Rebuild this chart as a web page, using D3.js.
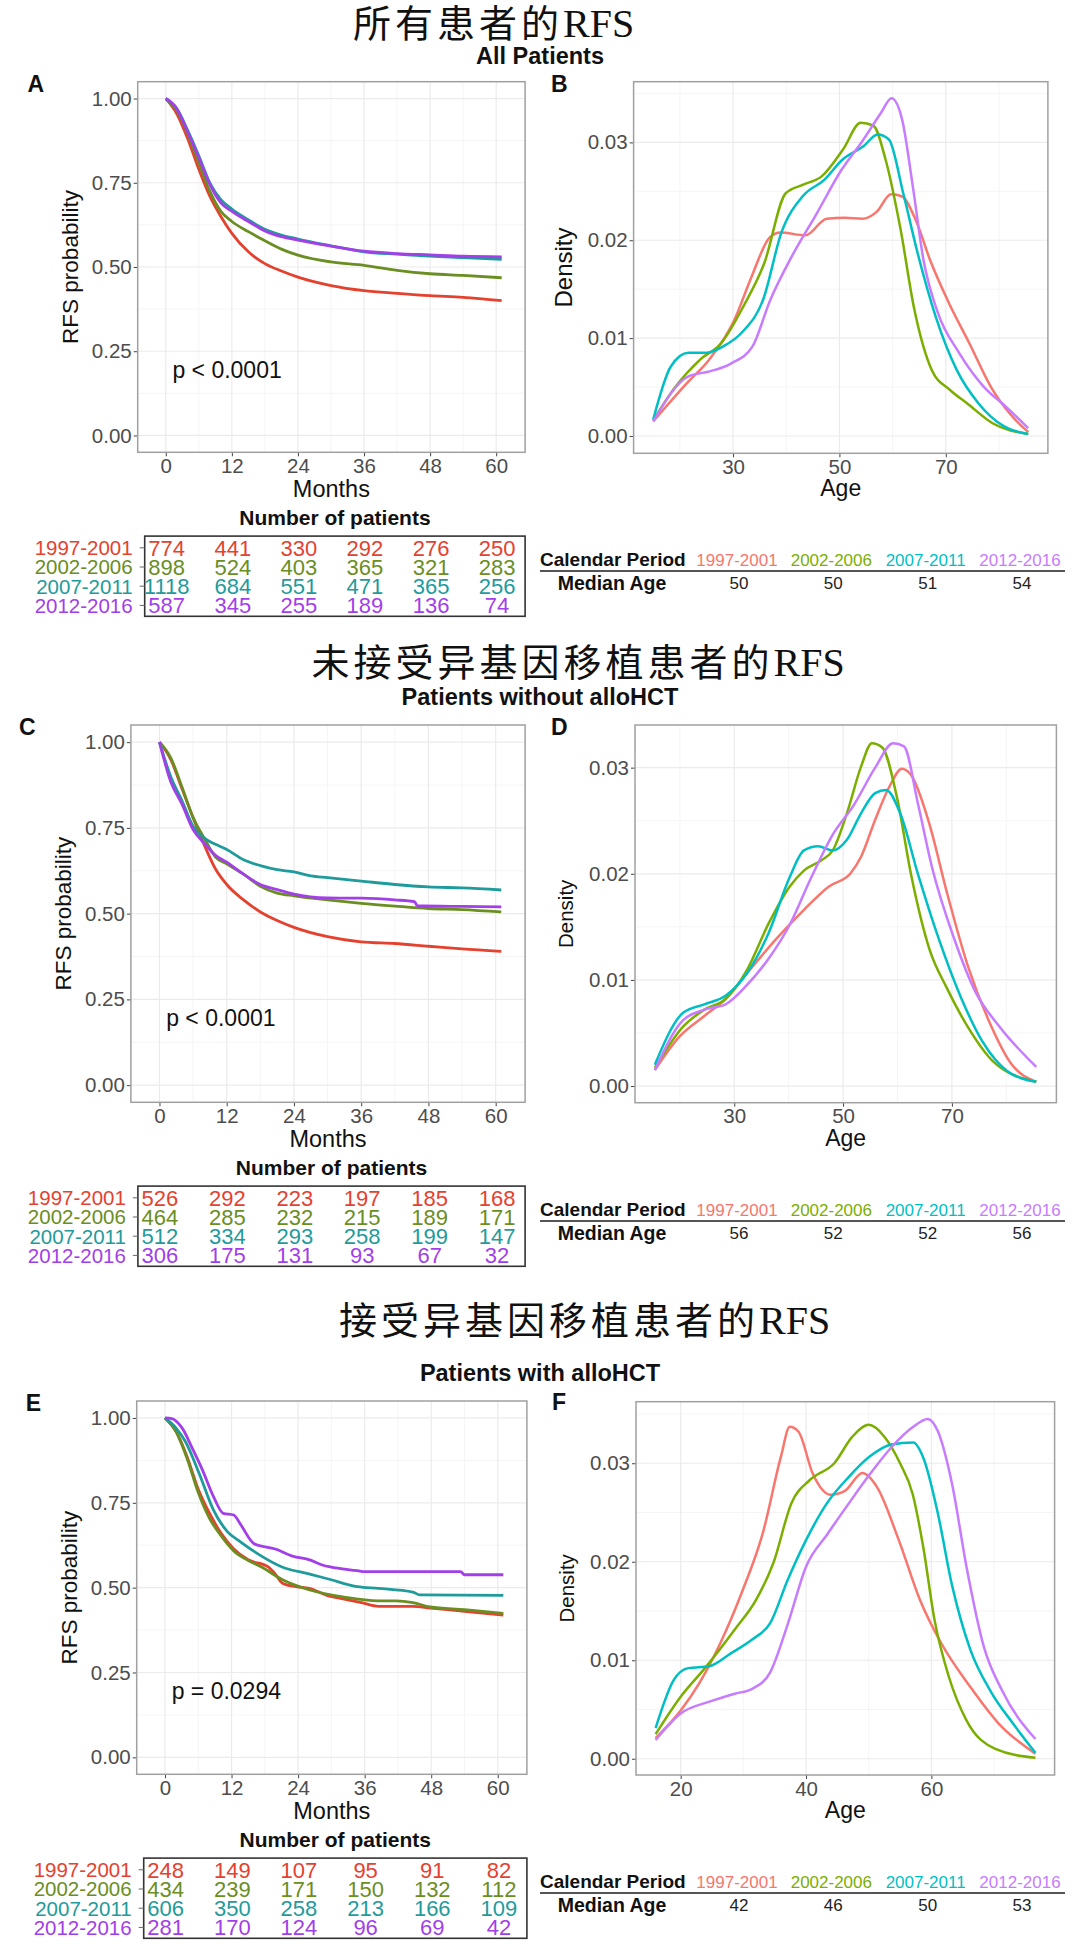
<!DOCTYPE html>
<html><head><meta charset="utf-8">
<script src="https://cdn.jsdelivr.net/npm/d3@7/dist/d3.min.js"></script>
<style>body{margin:0;background:#fff}svg{display:block}</style>
</head><body>
<svg id="chart" width="1080" height="1954"></svg>
<script>
// ---------------- DATA ----------------
const periods = ["1997-2001", "2002-2006", "2007-2011", "2012-2016"];
const monthTicks = [0, 12, 24, 36, 48, 60];
const monthMinor = [6, 18, 30, 42, 54];
const probTicks = [0, 0.25, 0.5, 0.75, 1];
const probMinor = [0.125, 0.375, 0.625, 0.875];
const densTicks = [0, 0.01, 0.02, 0.03];
const densMinor = [0.005, 0.015, 0.025, 0.035];

const sectionTitles = ["所有患者的", "未接受异基因移植患者的", "接受异基因移植患者的"];
const sectionSubtitles = ["All Patients", "Patients without alloHCT", "Patients with alloHCT"];
const pValues = ["p < 0.0001", "p < 0.0001", "p = 0.0294"];

// KM RFS curves [month, probability]
const rfsA_1997 = [[0,1],[2,0.955],[4,0.88],[6,0.79],[8,0.71],[10,0.65],[12,0.6],[15,0.545],[18,0.51],[21,0.488],[24,0.47],[30,0.445],[36,0.43],[42,0.422],[48,0.415],[54,0.41],[61,0.4]];
const rfsA_2002 = [[0,1],[2,0.965],[4,0.895],[6,0.81],[8,0.725],[10,0.665],[12,0.635],[15,0.605],[18,0.578],[21,0.553],[24,0.535],[30,0.515],[36,0.505],[42,0.49],[48,0.48],[54,0.475],[61,0.468]];
const rfsA_2007 = [[0,1],[2,0.97],[4,0.905],[6,0.83],[8,0.75],[10,0.7],[12,0.672],[15,0.64],[18,0.612],[21,0.595],[24,0.583],[30,0.563],[36,0.545],[42,0.538],[48,0.532],[54,0.528],[61,0.523]];
const rfsA_2012 = [[0,1],[2,0.97],[4,0.9],[6,0.825],[8,0.745],[10,0.69],[12,0.665],[15,0.635],[18,0.607],[21,0.59],[24,0.58],[30,0.562],[36,0.547],[42,0.54],[48,0.536],[54,0.532],[61,0.53]];

const rfsC_1997 = [[0,1],[2,0.95],[4,0.865],[6,0.78],[8,0.7],[10,0.63],[12,0.585],[15,0.54],[18,0.505],[21,0.48],[24,0.46],[30,0.433],[36,0.418],[42,0.413],[48,0.405],[54,0.397],[61,0.39]];
const rfsC_2002 = [[0,1],[2,0.955],[4,0.87],[6,0.78],[8,0.72],[10,0.665],[12,0.645],[15,0.615],[18,0.58],[21,0.56],[24,0.552],[30,0.54],[36,0.53],[42,0.522],[48,0.515],[54,0.512],[61,0.505]];
const rfsC_2007 = [[0,1],[2,0.9],[4,0.83],[6,0.755],[8,0.72],[10,0.702],[12,0.687],[15,0.657],[18,0.64],[21,0.628],[24,0.622],[27,0.61],[30,0.605],[36,0.595],[42,0.585],[48,0.578],[54,0.575],[61,0.569]];
const rfsC_2012 = [[0,1],[2,0.885],[4,0.82],[6,0.745],[8,0.705],[10,0.67],[12,0.65],[15,0.615],[18,0.585],[21,0.57],[24,0.557],[30,0.546],[36,0.545],[42,0.54],[45.5,0.535],[46,0.523],[54,0.521],[61,0.52]];

const rfsE_1997 = [[0,1],[2,0.96],[4,0.885],[6,0.79],[8,0.72],[10,0.663],[12.4,0.614],[15,0.582],[18.6,0.561],[19.9,0.54],[21.1,0.514],[23.6,0.503],[26,0.498],[29.2,0.477],[32.3,0.466],[35.4,0.456],[38.5,0.445],[44.7,0.445],[47.8,0.44],[50.9,0.435],[54,0.43],[61,0.419]];
const rfsE_2002 = [[0,1],[2,0.96],[4,0.88],[6,0.78],[8,0.705],[10,0.655],[12.4,0.608],[15,0.58],[17.4,0.561],[21.1,0.524],[26.1,0.493],[32.3,0.472],[38.5,0.461],[41.6,0.461],[44.7,0.456],[47.8,0.443],[54,0.435],[61,0.424]];
const rfsE_2007 = [[0,1],[2,0.97],[3.7,0.93],[6.2,0.835],[8.7,0.73],[11.2,0.666],[13.6,0.635],[17.4,0.593],[21.1,0.561],[26.1,0.54],[29.8,0.524],[34.7,0.503],[38.5,0.498],[44.7,0.487],[45.9,0.479],[61,0.477]];
const rfsE_2012 = [[0,1],[1.2,0.998],[3.1,0.97],[5,0.908],[6.8,0.845],[8.7,0.77],[10.5,0.719],[12.4,0.714],[13.6,0.687],[16.1,0.629],[19.9,0.614],[23,0.593],[26.1,0.582],[28.5,0.566],[29.8,0.561],[34.7,0.55],[36,0.547],[53.3,0.547],[54,0.538],[61,0.538]];

// Age density curves [age, density]
const densB_1997 = [[15,0.0015],[21.5,0.0055],[25.5,0.0078],[30.2,0.0118],[33.5,0.0163],[36.9,0.0203],[38.9,0.0208],[43.6,0.0205],[47.6,0.0222],[51,0.0223],[54.3,0.0222],[57,0.0229],[59.7,0.0247],[61.7,0.0245],[64.4,0.022],[67.1,0.0179],[70.4,0.0138],[74.5,0.0094],[78.5,0.005],[82.5,0.002],[85.5,0.0004]];
const densB_2002 = [[15,0.0016],[19,0.0049],[23.8,0.0078],[27.8,0.0095],[31.9,0.0132],[35.9,0.0177],[39.9,0.0248],[43.3,0.0257],[46.6,0.0265],[50.7,0.0293],[54,0.032],[56.4,0.0317],[58.7,0.0282],[61.4,0.0214],[64.1,0.0129],[67.4,0.0067],[70.8,0.0047],[74.1,0.0033],[78.8,0.0013],[85.5,0.0002]];
const densB_2007 = [[15,0.0017],[18.3,0.0071],[21.6,0.0085],[25,0.0085],[28.3,0.0092],[31.7,0.0106],[35.7,0.014],[39.1,0.0208],[43.1,0.0245],[47.2,0.0262],[50.5,0.0282],[54.5,0.0296],[57.2,0.0308],[59.3,0.0303],[62,0.0248],[64.7,0.0187],[68.1,0.0122],[72.1,0.0067],[76.2,0.0033],[80.9,0.001],[85.5,0.0002]];
const densB_2012 = [[15,0.0015],[21.6,0.0061],[25.6,0.0066],[29.6,0.0074],[33.6,0.0091],[37,0.0139],[41,0.0183],[45.7,0.0227],[50.4,0.0272],[54.4,0.0302],[57.8,0.033],[59.8,0.0345],[61.8,0.0323],[63.8,0.0255],[65.8,0.018],[68.5,0.0126],[72.5,0.0085],[77.2,0.005],[81.3,0.003],[85.5,0.0008]];

const densD_1997 = [[15.4,0.0015],[20,0.0047],[24.5,0.0066],[28.4,0.0082],[32.3,0.0106],[37.6,0.0138],[42.8,0.0166],[47.4,0.0188],[51.3,0.02],[53.3,0.0216],[55.9,0.0251],[58.5,0.0282],[60.8,0.0299],[62.5,0.0293],[65.8,0.0248],[69.1,0.0182],[73,0.0112],[77,0.0059],[80.9,0.0021],[85.5,0.0004]];
const densD_2002 = [[15.4,0.0017],[20.6,0.0056],[24.5,0.0072],[28.4,0.0082],[32.3,0.0109],[36.3,0.0153],[40.2,0.0188],[42.8,0.0203],[46.1,0.0213],[48.1,0.0222],[50.7,0.0257],[53.3,0.0301],[55.3,0.0323],[57.2,0.0319],[59.9,0.0272],[62.5,0.0199],[65.8,0.013],[69.1,0.0092],[73,0.0055],[77.6,0.0023],[85.5,0.0004]];
const densD_2007 = [[15.4,0.002],[20.6,0.0069],[24.5,0.0077],[28.4,0.0085],[32.3,0.0106],[36.3,0.0144],[40.2,0.0197],[42.8,0.0222],[45.4,0.0226],[48.1,0.0222],[50.7,0.0232],[53.3,0.0257],[55.9,0.0276],[57.9,0.0279],[60.5,0.0257],[63.8,0.0199],[67.7,0.0137],[71.7,0.0083],[75.6,0.0042],[80.2,0.0014],[85.5,0.0004]];
const densD_2012 = [[15.4,0.0015],[20.6,0.0062],[24.5,0.0072],[28.4,0.0077],[32.3,0.0095],[36.3,0.012],[40.2,0.0152],[44.1,0.0196],[48.1,0.0237],[52,0.0265],[55.9,0.03],[59.2,0.0323],[61.2,0.032],[63.8,0.0265],[66.4,0.0205],[70.4,0.0139],[74.3,0.0089],[78.9,0.0055],[85.5,0.0018]];

const densF_1997 = [[16,0.0021],[20,0.0049],[22.9,0.0076],[26.3,0.0117],[29.7,0.0168],[33.1,0.0229],[36,0.0307],[37.4,0.0337],[38.8,0.0332],[41.1,0.0289],[43.9,0.0268],[46.2,0.0272],[49,0.029],[51.3,0.0276],[54.8,0.0222],[58.2,0.0161],[61.6,0.0117],[66.2,0.0073],[70.7,0.0036],[76.6,0.0005]];
const densF_2002 = [[16,0.0025],[20,0.0063],[24,0.0093],[28.6,0.0131],[32,0.0161],[34.8,0.0199],[37.7,0.026],[40.6,0.0283],[44.5,0.03],[47.4,0.0327],[50,0.0339],[52.5,0.0327],[55,0.03],[57,0.0269],[58.7,0.0215],[60.5,0.0141],[62.8,0.0083],[65.6,0.0039],[70.2,0.001],[76.6,0.0001]];
const densF_2007 = [[16,0.0031],[18.9,0.008],[21.2,0.0092],[24.6,0.0094],[28,0.0107],[31.4,0.0121],[34.3,0.0138],[37.1,0.0182],[40,0.0222],[43.4,0.026],[46.8,0.0286],[50.2,0.0307],[53.6,0.0319],[57.1,0.0321],[58.8,0.0304],[61,0.025],[63.3,0.0176],[66.2,0.0111],[69.6,0.0067],[73,0.0036],[76.6,0.0006]];
const densF_2012 = [[16,0.0019],[20,0.0046],[24.6,0.0058],[28.6,0.0066],[31.4,0.0071],[34.3,0.0088],[37.1,0.0137],[40,0.0195],[43.4,0.0228],[46.8,0.0259],[50.2,0.0289],[53.6,0.0316],[57.1,0.0337],[59.4,0.0345],[61,0.0333],[63.3,0.0279],[65.6,0.0195],[68.4,0.0113],[71.3,0.0069],[76.6,0.002]];

// Number at risk at 0,12,24,36,48,60 months
const riskA_1997 = [774, 441, 330, 292, 276, 250];
const riskA_2002 = [898, 524, 403, 365, 321, 283];
const riskA_2007 = [1118, 684, 551, 471, 365, 256];
const riskA_2012 = [587, 345, 255, 189, 136, 74];
const riskC_1997 = [526, 292, 223, 197, 185, 168];
const riskC_2002 = [464, 285, 232, 215, 189, 171];
const riskC_2007 = [512, 334, 293, 258, 199, 147];
const riskC_2012 = [306, 175, 131, 93, 67, 32];
const riskE_1997 = [248, 149, 107, 95, 91, 82];
const riskE_2002 = [434, 239, 171, 150, 132, 112];
const riskE_2007 = [606, 350, 258, 213, 166, 109];
const riskE_2012 = [281, 170, 124, 96, 69, 42];

const medianAgeA = [50, 50, 51, 54];
const medianAgeC = [56, 52, 52, 56];
const medianAgeE = [42, 46, 50, 53];

// ---------------- STYLE / LAYOUT ----------------
const kmColors = ["#E4422F", "#6B8E23", "#1F9B9B", "#A23FE8"];
const densColors = ["#F8766D", "#7CAE00", "#00BFC4", "#C77CFF"];
const SANS = "'Liberation Sans', Arial, sans-serif";
const svg = d3.select("#chart");
svg.append("rect").attr("width", 1080).attr("height", 1954).attr("fill", "#fff");

const sections = [
  { titleX: 353, titleY: 37, subY: 64,
    km: { L: 137.7, R: 525.1, T: 81.7, B: 452.3, letter: "A", lx: 27.5, ly: 92, data: [rfsA_1997, rfsA_2002, rfsA_2007, rfsA_2012] },
    dens: { L: 633.6, R: 1047.9, T: 81.7, B: 453.3, xd: [11.3, 89.2], yd: [-0.00177, 0.0362], xt: [30, 50, 70], xm: [20, 40, 60, 80], letter: "B", lx: 551, ly: 92, labSize: 24, data: [densB_1997, densB_2002, densB_2007, densB_2012] },
    risk: [riskA_1997, riskA_2002, riskA_2007, riskA_2012], med: medianAgeA },
  { titleX: 311.6, titleY: 676, subY: 705,
    km: { L: 130.9, R: 525.1, T: 725, B: 1102.3, letter: "C", lx: 19, ly: 735, data: [rfsC_1997, rfsC_2002, rfsC_2007, rfsC_2012] },
    dens: { L: 635, R: 1056.4, T: 725, B: 1102.7, xd: [11.76, 89.2], yd: [-0.00157, 0.03402], xt: [30, 50, 70], xm: [20, 40, 60, 80], letter: "D", lx: 551, ly: 735, labSize: 20.5, data: [densD_1997, densD_2002, densD_2007, densD_2012] },
    risk: [riskC_1997, riskC_2002, riskC_2007, riskC_2012], med: medianAgeC },
  { titleX: 339, titleY: 1334, subY: 1381,
    km: { L: 136.7, R: 526.9, T: 1401, B: 1774.3, letter: "E", lx: 25.8, ly: 1411, data: [rfsE_1997, rfsE_2002, rfsE_2007, rfsE_2012] },
    dens: { L: 636, R: 1054.6, T: 1401.7, B: 1775, xd: [12.87, 79.66], yd: [-0.00165, 0.03625], xt: [20, 40, 60], xm: [30, 50, 70], letter: "F", lx: 552, ly: 1410, labSize: 20.5, data: [densF_1997, densF_2002, densF_2007, densF_2012] },
    risk: [riskE_1997, riskE_2002, riskE_2007, riskE_2012], med: medianAgeE }
];

function panel(x, y, xt, xm, yt, ym, yfmt) {
  const g = svg.append("g");
  const [y0, y1] = y.range();
  const [x0, x1] = x.range();
  g.selectAll(null).data(xm.filter(d => d > x.domain()[0] && d < x.domain()[1])).join("line")
    .attr("x1", d => x(d)).attr("x2", d => x(d)).attr("y1", y0).attr("y2", y1)
    .attr("stroke", "#F4F4F4").attr("stroke-width", 0.9);
  g.selectAll(null).data(ym.filter(d => d > y.domain()[0] && d < y.domain()[1])).join("line")
    .attr("y1", d => y(d)).attr("y2", d => y(d)).attr("x1", x0).attr("x2", x1)
    .attr("stroke", "#F4F4F4").attr("stroke-width", 0.9);
  g.selectAll(null).data(xt).join("line")
    .attr("x1", d => x(d)).attr("x2", d => x(d)).attr("y1", y0).attr("y2", y1)
    .attr("stroke", "#EBEBEB").attr("stroke-width", 1.2);
  g.selectAll(null).data(yt).join("line")
    .attr("y1", d => y(d)).attr("y2", d => y(d)).attr("x1", x0).attr("x2", x1)
    .attr("stroke", "#EBEBEB").attr("stroke-width", 1.2);
  const ax = g.append("g").attr("transform", `translate(0,${y0})`)
    .call(d3.axisBottom(x).tickValues(xt).tickSize(4).tickPadding(2));
  const ay = g.append("g").attr("transform", `translate(${x0},0)`)
    .call(d3.axisLeft(y).tickValues(yt).tickFormat(yfmt).tickSize(4).tickPadding(2));
  [ax, ay].forEach(a => {
    a.select(".domain").remove();
    a.selectAll("line").attr("stroke", "#444").attr("stroke-width", 1);
    a.selectAll("text").attr("font-family", SANS).attr("font-size", 20.5).attr("fill", "#4D4D4D");
  });
  return g;
}

function frame(g, L, R, T, B) {
  g.append("rect").attr("x", L).attr("y", T).attr("width", R - L).attr("height", B - T)
    .attr("fill", "none").attr("stroke", "#A0A0A0").attr("stroke-width", 1.5);
}

sections.forEach((s, si) => {
  // Titles
  const t = svg.append("text").attr("x", s.titleX).attr("y", s.titleY).attr("font-size", 38).attr("fill", "#111");
  t.append("tspan").attr("font-family", "'Noto Sans CJK SC', sans-serif").attr("letter-spacing", 4).text(sectionTitles[si]);
  t.append("tspan").attr("font-family", "'Liberation Serif', 'DejaVu Serif', serif").attr("font-size", 40).text("RFS");
  svg.append("text").attr("x", 540).attr("y", s.subY).attr("text-anchor", "middle")
    .attr("font-family", SANS).attr("font-weight", "bold").attr("font-size", 23.5).attr("fill", "#111")
    .text(sectionSubtitles[si]);

  // ---- KM panel ----
  const k = s.km;
  const x = d3.scaleLinear().domain([-5.1, 65.25]).range([k.L, k.R]);
  const y = d3.scaleLinear().domain([-0.05, 1.05]).range([k.B, k.T]);
  const g = panel(x, y, monthTicks, monthMinor, probTicks, probMinor, d3.format(".2f"));
  const line = d3.line().x(d => x(d[0])).y(d => y(d[1])).curve(d3.curveMonotoneX);
  k.data.forEach((ser, i) => {
    g.append("path").datum(ser).attr("d", line).attr("fill", "none")
      .attr("stroke", kmColors[i]).attr("stroke-width", 2.8).attr("stroke-linejoin", "round");
  });
  frame(g, k.L, k.R, k.T, k.B);
  g.append("text").attr("x", x(1.2)).attr("y", y(0.172)).attr("font-family", SANS)
    .attr("font-size", 23).attr("fill", "#111").text(pValues[si]);
  g.append("text").attr("transform", `translate(${k.L - 67},${(k.T + k.B) / 2}) rotate(-90)`)
    .attr("text-anchor", "middle").attr("dominant-baseline", "central")
    .attr("font-family", SANS).attr("font-size", 22.5).attr("fill", "#111").text("RFS probability");
  g.append("text").attr("x", (k.L + k.R) / 2).attr("y", k.B + 44.7).attr("text-anchor", "middle")
    .attr("font-family", SANS).attr("font-size", 23.5).attr("fill", "#111").text("Months");
  svg.append("text").attr("x", k.lx).attr("y", k.ly).attr("font-family", SANS).attr("font-weight", "bold")
    .attr("font-size", 23).attr("fill", "#111").text(k.letter);

  // ---- Risk table ----
  const fb = k.B;
  const boxL = k.L + 7, boxR = k.R;
  const cx = d3.scaleLinear().domain([0, 60]).range([boxL + 22, boxR - 28]);
  const ry = d3.scaleLinear().domain([0, 1]).range([fb + 95.5, fb + 114.7]);
  svg.append("text").attr("x", (boxL + boxR) / 2).attr("y", fb + 73).attr("text-anchor", "middle")
    .attr("font-family", SANS).attr("font-weight", "bold").attr("font-size", 21).attr("fill", "#111")
    .text("Number of patients");
  svg.append("rect").attr("x", boxL).attr("y", fb + 83.8).attr("width", boxR - boxL).attr("height", 80.2)
    .attr("fill", "none").attr("stroke", "#333").attr("stroke-width", 1.6);
  s.risk.forEach((row, i) => {
    svg.append("text").attr("x", boxL - 12).attr("y", ry(i)).attr("dy", "0.36em").attr("text-anchor", "end")
      .attr("font-family", SANS).attr("font-size", 20.5).attr("fill", kmColors[i]).text(periods[i]);
    svg.append("line").attr("x1", boxL - 5).attr("x2", boxL).attr("y1", ry(i)).attr("y2", ry(i))
      .attr("stroke", "#666").attr("stroke-width", 1);
    svg.selectAll(null).data(row.map((v, j) => [monthTicks[j], v])).join("text")
      .attr("x", d => cx(d[0])).attr("y", ry(i)).attr("dy", "0.36em").attr("text-anchor", "middle")
      .attr("font-family", SANS).attr("font-size", 22).attr("fill", kmColors[i]).text(d => d[1]);
  });

  // ---- Density panel ----
  const dc = s.dens;
  const dx = d3.scaleLinear().domain(dc.xd).range([dc.L, dc.R]);
  const dy = d3.scaleLinear().domain(dc.yd).range([dc.B, dc.T]);
  const dg = panel(dx, dy, dc.xt, dc.xm, densTicks, densMinor, d3.format(".2f"));
  const dline = d3.line().x(d => dx(d[0])).y(d => dy(d[1])).curve(d3.curveMonotoneX);
  dc.data.forEach((ser, i) => {
    dg.append("path").datum(ser).attr("d", dline).attr("fill", "none")
      .attr("stroke", densColors[i]).attr("stroke-width", 2.5);
  });
  frame(dg, dc.L, dc.R, dc.T, dc.B);
  dg.append("text").attr("transform", `translate(${dc.L - 70},${(dc.T + dc.B) / 2}) rotate(-90)`)
    .attr("text-anchor", "middle").attr("dominant-baseline", "central")
    .attr("font-family", SANS).attr("font-size", dc.labSize).attr("fill", "#111").text("Density");
  dg.append("text").attr("x", (dc.L + dc.R) / 2).attr("y", dc.B + 43).attr("text-anchor", "middle")
    .attr("font-family", SANS).attr("font-size", 23).attr("fill", "#111").text("Age");
  svg.append("text").attr("x", dc.lx).attr("y", dc.ly).attr("font-family", SANS).attr("font-weight", "bold")
    .attr("font-size", 23).attr("fill", "#111").text(dc.letter);

  // ---- Calendar period / median age table ----
  const px = d3.scalePoint().domain(periods).range([737, 1020]);
  svg.append("text").attr("x", 540).attr("y", fb + 113.8).attr("font-family", SANS).attr("font-weight", "bold")
    .attr("font-size", 19).attr("fill", "#111").text("Calendar Period");
  svg.selectAll(null).data(periods).join("text")
    .attr("x", d => px(d)).attr("y", fb + 113.8).attr("text-anchor", "middle")
    .attr("font-family", SANS).attr("font-size", 17).attr("fill", (d, i) => densColors[i]).text(d => d);
  svg.append("line").attr("x1", 540).attr("x2", 1065).attr("y1", fb + 118.7).attr("y2", fb + 118.7)
    .attr("stroke", "#555").attr("stroke-width", 2);
  svg.append("text").attr("x", 612).attr("y", fb + 138).attr("text-anchor", "middle")
    .attr("font-family", SANS).attr("font-weight", "bold").attr("font-size", 19.5).attr("fill", "#111").text("Median Age");
  svg.selectAll(null).data(s.med.map((v, i) => [periods[i], v])).join("text")
    .attr("x", d => px(d[0]) + 2).attr("y", fb + 136.5).attr("text-anchor", "middle")
    .attr("font-family", SANS).attr("font-size", 17).attr("fill", "#222").text(d => d[1]);
});
</script>
</body></html>
